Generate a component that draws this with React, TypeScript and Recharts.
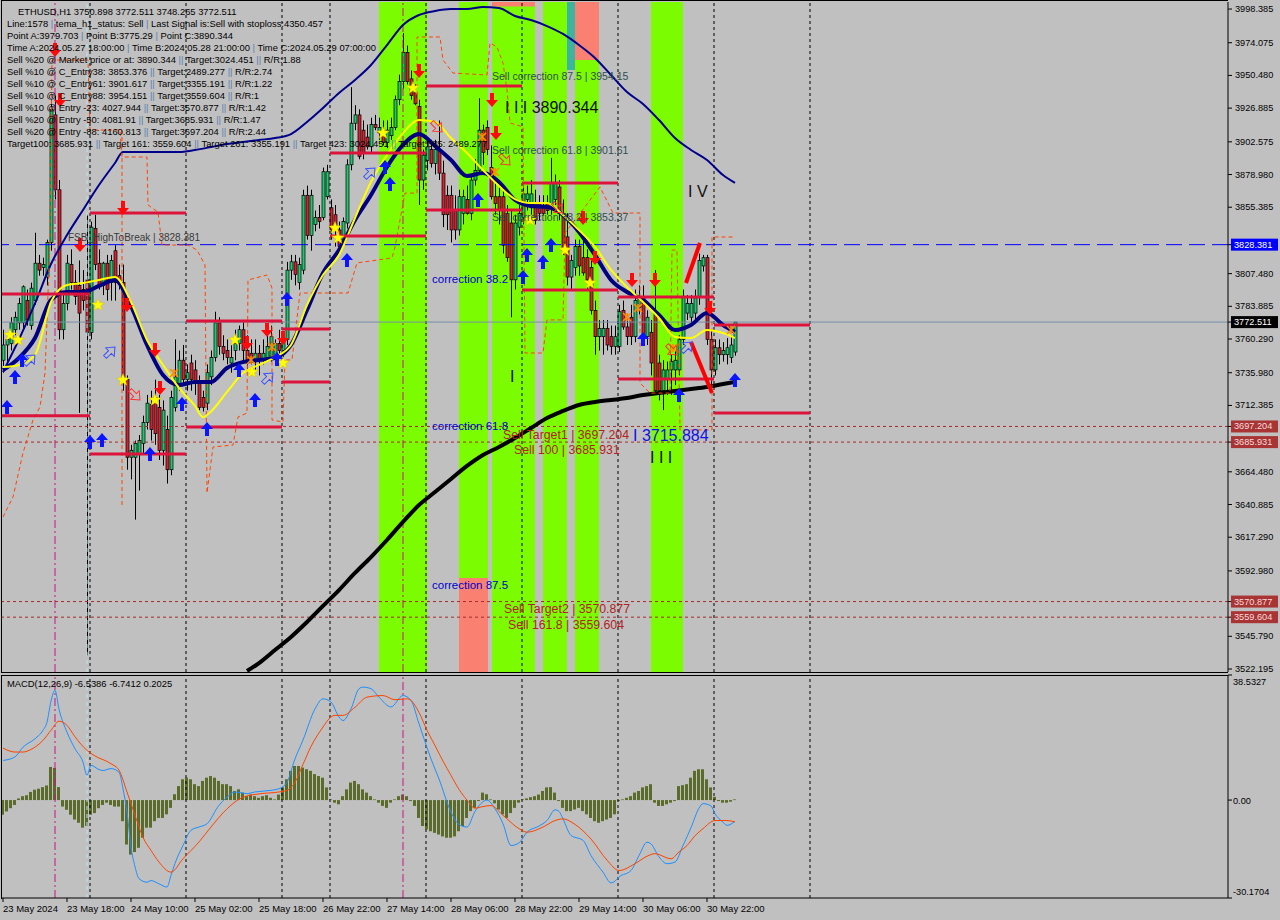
import React from 'react';
import { ComposedChart, Bar, Line, Scatter, XAxis, YAxis, ReferenceArea, ReferenceLine } from 'recharts';

const FONT = "'Liberation Sans', Arial, sans-serif";
const P_MIN = 3520.05;
const P_MAX = 4003.46;
const M_MIN = -30.1704;
const M_MAX = 38.5327;
const X_DOMAIN: [number, number] = [-0.25, 306.25];

// hourly candles [open, high, low, close]
const candles: number[][] = [
  [3745,3767,3736,3756],[3756,3763,3742,3760],[3757,3776,3752,3772],[3767,3780,3763,3776],[3772,3790,3767,3786],
  [3772,3799,3768,3798],[3788,3796,3770,3774],[3770,3801,3767,3797],[3788,3837,3785,3815],[3815,3821,3806,3810],
  [3812,3819,3806,3814],[3805,3832,3799,3830],[3830,3933,3824,3926],[3922,3936,3861,3868],[3868,3875,3760,3767],
  [3767,3792,3760,3786],[3786,3821,3781,3815],[3814,3825,3796,3801],[3801,3810,3785,3791],[3799,3817,3707,3779],
  [3796,3810,3781,3788],[3803,3850,3532,3765],[3765,3845,3760,3841],[3840,3850,3810,3814],[3815,3825,3796,3798],
  [3799,3816,3792,3815],[3815,3821,3788,3796],[3801,3821,3788,3817],[3824,3828,3788,3801],[3806,3814,3796,3801],
  [3801,3814,3723,3731],[3731,3734,3666,3675],[3675,3684,3659,3680],[3675,3687,3630,3685],[3677,3691,3651,3687],
  [3685,3705,3677,3700],[3700,3720,3695,3714],[3713,3723,3687,3695],[3718,3731,3684,3692],[3711,3720,3673,3680],
  [3680,3716,3669,3709],[3695,3705,3656,3666],[3666,3723,3662,3718],[3711,3760,3708,3733],[3728,3752,3723,3745],
  [3745,3756,3727,3731],[3731,3742,3723,3736],[3743,3749,3723,3731],[3738,3745,3720,3729],[3729,3734,3709,3711],
  [3718,3723,3708,3711],[3714,3742,3709,3736],[3733,3752,3727,3747],[3747,3780,3744,3772],[3772,3776,3749,3755],
  [3755,3763,3745,3750],[3752,3760,3742,3747],[3743,3756,3736,3747],[3752,3767,3745,3757],[3757,3770,3752,3767],
  [3767,3774,3745,3752],[3752,3763,3738,3743],[3750,3760,3742,3745],[3745,3760,3738,3750],[3750,3756,3734,3745],
  [3745,3760,3742,3750],[3747,3767,3744,3755],[3747,3770,3744,3762],[3747,3760,3742,3757],[3757,3767,3749,3752],
  [3752,3763,3747,3760],[3760,3816,3756,3810],[3810,3821,3803,3816],[3816,3821,3799,3807],[3801,3819,3796,3814],
  [3810,3868,3807,3864],[3864,3871,3832,3835],[3835,3868,3824,3864],[3843,3853,3838,3848],[3848,3857,3840,3845],
  [3848,3884,3846,3881],[3863,3886,3861,3881],[3855,3861,3832,3839],[3850,3857,3827,3839],[3839,3845,3823,3827],
  [3832,3848,3828,3845],[3844,3890,3840,3886],[3886,3942,3882,3916],[3916,3929,3911,3922],[3922,3926,3890,3892],
  [3911,3918,3890,3895],[3906,3915,3897,3899],[3899,3920,3895,3915],[3915,3922,3911,3913],[3909,3920,3904,3913],
  [3909,3918,3900,3902],[3902,3918,3898,3911],[3907,3920,3904,3913],[3913,3936,3911,3933],[3933,3951,3929,3946],
  [3946,3981,3941,3967],[3967,3972,3944,3946],[3948,3954,3933,3936],[3938,3944,3929,3930],[3928,3933,3857,3875],
  [3875,3897,3868,3893],[3889,3904,3882,3899],[3897,3904,3884,3887],[3887,3904,3879,3897],[3897,3918,3875,3880],
  [3880,3889,3841,3850],[3864,3871,3839,3850],[3864,3871,3830,3839],[3853,3864,3832,3839],[3839,3868,3835,3863],
  [3851,3868,3843,3863],[3861,3871,3850,3851],[3851,3879,3846,3875],[3875,3890,3871,3882],[3882,3934,3879,3911],
  [3911,3915,3886,3895],[3913,3918,3893,3897],[3884,3900,3861,3863],[3863,3875,3850,3858],[3863,3871,3843,3853],
  [3863,3868,3822,3828],[3851,3857,3816,3819],[3844,3853,3776,3803],[3803,3850,3796,3844],[3841,3857,3835,3851],
  [3848,3871,3843,3865],[3861,3871,3853,3865],[3855,3875,3850,3865],[3858,3868,3843,3846],[3858,3864,3846,3851],
  [3855,3864,3850,3851],[3858,3864,3850,3853],[3855,3891,3850,3873],[3861,3879,3857,3873],[3870,3875,3846,3851],
  [3851,3861,3821,3824],[3834,3851,3799,3805],[3805,3821,3796,3817],[3812,3832,3806,3827],[3827,3832,3806,3813],
  [3819,3832,3806,3808],[3819,3825,3796,3803],[3812,3817,3778,3781],[3781,3788,3749,3762],[3762,3774,3752,3768],
  [3762,3774,3749,3768],[3768,3774,3752,3756],[3762,3770,3749,3755],[3755,3770,3749,3762],[3755,3785,3751,3780],
  [3781,3788,3767,3769],[3769,3778,3756,3762],[3776,3785,3756,3762],[3762,3796,3758,3788],[3783,3799,3778,3791],
  [3791,3799,3760,3762],[3762,3781,3756,3776],[3765,3774,3734,3743],[3779,3810,3720,3723],[3743,3749,3716,3723],
  [3723,3745,3709,3738],[3731,3744,3720,3738],[3738,3749,3720,3744],[3738,3752,3727,3745],[3738,3763,3734,3760],
  [3760,3796,3756,3791],[3779,3792,3774,3786],[3776,3792,3772,3786],[3779,3796,3774,3790],[3791,3822,3785,3817],
  [3813,3821,3809,3819],[3819,3821,3756,3760],[3760,3767,3727,3738],[3738,3760,3734,3754],[3754,3760,3742,3749],
  [3749,3758,3744,3752],[3749,3761,3742,3754],[3747,3763,3743,3756],[3750.898,3772.511,3748.265,3772.511],
];

// indicator lines [bar, value]
const temaLine: number[][] = [
  [0,3737.9],[4,3746.6],[8,3761.0],[12,3788.5],[16,3794.2],[20,3794.2],[24,3798.6],[28,3802.9],[32,3784.1],[36,3756.0],
  [40,3734.3],[44,3727.1],[48,3729.3],[52,3729.3],[56,3739.4],[60,3743.7],[64,3745.2],[68,3746.6],[72,3756.0],[76,3781.2],
  [80,3807.9],[84,3824.5],[88,3846.2],[92,3864.2],[96,3884.4],[100,3900.3],[104,3908.2],[108,3899.6],[112,3889.5],[116,3877.9],
  [120,3880.1],[124,3873.6],[128,3860.6],[132,3856.3],[136,3855.5],[140,3849.8],[144,3837.5],[148,3820.9],[152,3802.9],[156,3794.2],
  [160,3788.5],[164,3777.6],[168,3766.8],[172,3770.4],[176,3779.1],[180,3770.4],[183,3765.4],
];
const yellowLine: number[][] = [
  [0,3740.1],[4,3741.6],[8,3748.8],[12,3787.0],[16,3799.3],[20,3800.7],[24,3802.9],[28,3805.0],[32,3787.0],[36,3759.6],
  [40,3741.6],[44,3725.0],[48,3712.0],[50,3704.0],[52,3708.0],[56,3722.1],[60,3735.8],[64,3741.6],[68,3747.3],[72,3756.0],[76,3784.8],
  [80,3806.5],[84,3820.9],[88,3847.6],[92,3873.6],[96,3893.1],[100,3908.9],[104,3918.3],[108,3916.9],[112,3905.3],[116,3894.5],
  [120,3882.2],[124,3870.7],[128,3861.3],[132,3858.4],[136,3858.4],[140,3849.8],[144,3838.9],[148,3826.7],[152,3810.1],[156,3797.8],
  [160,3787.0],[164,3775.5],[168,3761.8],[172,3761.0],[176,3766.8],[180,3764.6],[183,3761.0],
];
const envelopeLine: number[][] = [
  [0,3736.5],[4,3760.0],[8,3786.0],[12,3814.4],[16,3835.3],[20,3853.4],[24,3871.4],[28,3887.3],[30,3895.2],[36,3895.2],
  [44,3895.2],[48,3896.7],[52,3898.8],[56,3901.0],[60,3902.4],[64,3903.9],[68,3905.3],[72,3908.2],[76,3916.9],[80,3927.0],
  [84,3937.8],[88,3947.2],[92,3958.0],[96,3972.4],[100,3986.9],[104,3994.1],[108,3997.0],[112,3998.4],[116,3998.4],[120,3999.8],
  [124,3999.1],[128,3993.4],[132,3990.5],[136,3986.1],[140,3980.4],[144,3972.4],[148,3963.1],[152,3950.8],[156,3938.5],[160,3929.9],
  [164,3918.3],[168,3905.3],[172,3896.7],[176,3889.5],[180,3878.6],[183,3872.9],
];
const ma200Line: number[][] = [
  [61,3520.8],[64,3526.5],[68,3535.9],[72,3545.3],[76,3556.1],[80,3567.7],[84,3579.2],[88,3591.5],[92,3603.0],[96,3615.3],
  [100,3628.3],[104,3640.5],[108,3649.9],[112,3659.3],[116,3668.7],[120,3676.6],[124,3682.4],[128,3688.9],[132,3696.1],[136,3703.3],
  [140,3708.4],[144,3712.7],[148,3714.9],[152,3716.3],[156,3717.7],[160,3719.9],[164,3721.3],[168,3722.8],[172,3724.2],[176,3725.7],
  [180,3727.8],[183,3729.3],
];
const trailLine: number[][] = [
  [0,3631.9],[2.5,3646.3],[5,3678.1],[7.5,3701.9],[9.25,3711.3],[10.5,3735.8],[11.75,3831.7],[12.25,3961.6],[21.25,3961.6],[21.75,3911.1],
  [29.25,3911.1],[29.75,3891.6],[36,3891.6],[36.25,3857.0],[38.75,3851.9],[39.75,3828.1],[46.25,3828.1],[48.5,3824.5],[50.5,3813.7],[51,3649.2],
  [52.5,3682.4],[57.5,3683.8],[58.75,3704.0],[61,3706.9],[61.25,3802.9],[66,3806.5],[67.25,3797.1],[67.25,3701.9],[70,3700.4],[70.5,3745.2],
  [72.25,3745.2],[74.25,3793.5],[86.25,3793.5],[88.5,3815.2],[97.25,3818.8],[98,3826.7],[100.5,3865.6],[103.5,3865.6],[103.5,3978.2],[109.25,3978.2],
  [110,3961.6],[112.5,3952.2],[121,3950.8],[121.75,3973.9],[123.5,3971.0],[125,3959.4],[126,3940.0],[126.75,3916.2],[130,3913.3],[130.5,3750.2],
  [135,3750.2],[136,3774.1],[140,3774.1],[140.5,3836.8],[149.25,3870.0],[152.5,3851.2],[159.25,3851.2],[159.25,3728.6],[161.75,3721.3],[166.75,3721.3],
  [167.25,3824.5],[168.5,3824.5],[169.25,3694.7],[177.25,3694.7],[177.25,3833.9],[182.5,3833.9],
];

// MACD(12,26,9)
const histValues: number[] = [
  -4.5,-3.5,-2.5,-1.5,0.5,1.2,1.5,2.5,3.2,3.5,
  4.0,4.5,10.2,9.9,4.0,-2.0,-3.0,-4.5,-6.0,-7.0,
  -8.5,-8.0,-4.5,-4.0,-2.5,-1.5,-0.8,-1.5,-2.0,-2.0,
  -6.5,-13.7,-16.8,-16.0,-14.7,-11.6,-8.5,-8.5,-6.5,-5.5,
  -5.5,-4.4,-2.4,1.8,4.3,6.4,6.9,6.4,4.9,4.3,
  5.9,6.9,7.4,6.9,5.9,4.9,4.9,4.3,2.8,3.3,
  2.3,1.2,1.7,1.2,0.7,1.2,1.5,0.7,0.2,1.7,
  3.9,6.4,9.0,10.5,10.5,10.0,9.5,9.0,8.0,7.4,
  6.9,3.9,0.2,-0.8,-1.3,1.2,3.3,5.4,5.9,4.9,
  3.3,2.3,1.2,0.2,-0.8,-1.8,-2.4,-0.8,0.2,1.2,
  1.7,1.2,-0.3,-1.8,-5.5,-8.0,-9.0,-9.6,-10.1,-10.6,
  -11.2,-11.6,-11.6,-11.2,-9.6,-8.0,-5.5,-3.4,-2.4,-0.3,
  2.3,1.8,0.2,-1.0,-2.9,-4.4,-5.5,-4.0,-2.4,-0.8,
  0.2,0.5,0.9,1.2,1.7,2.8,3.9,4.0,2.3,-0.3,
  -2.4,-3.4,-3.4,-2.9,-2.4,-3.4,-4.4,-5.5,-6.5,-7.0,
  -6.5,-6.0,-5.5,-4.4,-0.3,0.2,0.7,1.2,2.3,2.8,
  3.9,4.3,4.9,-0.8,-1.8,-1.8,-1.3,-0.8,-0.3,4.3,
  4.6,4.9,6.9,9.0,9.5,9.5,6.4,3.9,1.0,-0.3,
  -0.8,-0.8,-0.5,0.2,
];
const macdLine: number[][] = [
  [0,12.2],[3,13.3],[5,16.3],[8,18.9],[10,21.5],[11,24.0],[12,30.5],[13,33.8],[14,28.0],[16,20.9],[18,15.8],[20,11.7],[21,7.6],
  [22,10.7],[24,9.4],[25,9.1],[27,9.7],[29,8.6],[30,3.5],[31,-3.7],[32,-14.5],[33,-20.5],[34,-24.2],[36,-25.3],[37,-24.8],
  [39,-25.8],[41,-26.8],[42,-23.2],[43,-19.5],[45,-14.0],[47,-9.3],[49,-8.3],[51,-7.3],[54,-1.6],[56,0.9],[58,2.5],[61,2.0],
  [63,2.5],[67,3.0],[69,3.5],[71,5.5],[73,12.7],[75,18.5],[78,28.1],[80,31.2],[82,30.2],[84,25.6],[85,24.5],[87,28.1],[89,34.3],
  [90,34.8],[92,34.3],[94,31.7],[97,28.7],[100,32.2],[102,30.7],[104,23.5],[107,12.7],[109,6.5],[112,-3.7],[114,-7.5],[116,-8.3],
  [118,-3.5],[121,0],[123,-2.7],[125,-7.3],[127,-14.0],[129,-13.2],[131,-9.9],[134,-8.0],[136,-6.3],[138,-3.0],[139,-3.5],
  [140,-5.8],[142,-10.9],[145,-12.4],[147,-17.1],[150,-22.2],[152,-25.5],[153,-25.0],[154,-23.7],[157,-21.7],[159,-17.1],
  [161,-13.0],[162,-13.5],[164,-17.5],[166,-19.6],[168,-19.1],[170,-14.0],[172,-8.5],[174,-2.5],[175,-1.1],[177,-1.8],
  [178,-4.2],[180,-6.8],[181,-7.8],[183,-6.5386],
];
const signalLine: number[][] = [
  [0,16.0],[3,14.8],[5,14.8],[7,15.6],[10,18.4],[12,21.5],[14,24.3],[16,23.0],[18,19.5],[21,15.3],[23,13.6],[27,11.2],
  [29,9.2],[31,2.5],[33,-4.7],[35,-11.5],[37,-15.5],[39,-19.1],[42,-22.2],[45,-18.1],[49,-12.9],[52,-8.3],[56,-2.7],[60,0.9],
  [64,1.9],[69,2.5],[71,3.0],[73,5.5],[75,11.0],[77,16.5],[80,22.5],[82,25.6],[83,26.1],[85,26.1],[88,28.6],[91,31.7],
  [95,32.2],[98,30.9],[101,31.2],[102,30.7],[104,27.0],[106,21.5],[108,16.8],[110,12.0],[112,7.6],[114,3.3],[116,0],
  [118,-2.5],[120,-2.0],[122,-1.7],[125,-4.7],[129,-8.8],[131,-9.9],[135,-8.3],[138,-6.3],[140,-5.8],[143,-7.5],[147,-12.0],
  [151,-18.5],[154,-21.7],[158,-19.6],[161,-17.3],[163,-16.5],[167,-18.1],[169,-16.0],[171,-14.0],[173,-11.0],[175,-8.8],
  [178,-6.3],[181,-6.3],[183,-6.7412],
];

// support / resistance segments [fromBar, toBar, price]
const levelSegments: number[][] = [
  [-0.25,21.75,3792.8],[-0.25,21.75,3705.0],[21.75,45.75,3851.2],[21.75,45.75,3677.3],[45.75,69.75,3773.3],[45.75,69.75,3696.8],
  [69.75,81.75,3767.5],[69.75,81.75,3729.3],[81.75,105.75,3834.6],[81.75,105.75,3894.5],[105.75,129.75,3942.9],[105.75,129.75,3853.4],
  [129.75,153.75,3872.9],[129.75,153.75,3795.7],[153.75,177.75,3790.6],[153.75,177.75,3731.5],[177.75,201.75,3770.4],[177.75,201.75,3706.9],
];
const zigzagSegments: number[][] = [
  [170.75,3800.7,174.25,3829.6],
  [172,3758.2,177.25,3721.3],
];
const dayBreaks: number[] = [21.75,45.75,69.75,81.75,105.75,129.75,153.75,177.75,201.75];
const pointMarkers: number[] = [13, 100];
const greenBands: number[][] = [[94,106],[114,121.25],[122.25,133],[135,141],[143,149],[162,170]];
const fullLevels = { fsb: 3828.381, bid: 3772.511, targets: [3697.204, 3685.931, 3570.877, 3559.604] };

const upArrows: number[][] = [
  [1,3716.3],[3,3737.9],[4.75,3750.2],[21.75,3691.0],[24.75,3692.5],[36.75,3682.4],[44.75,3718.5],[51,3700.4],[59,3743.0],
  [63,3721.4],[68.5,3750.9],[71,3794.2],[86,3822.4],[95.5,3889.5],[96.75,3877.2],[118.75,3865.6],[130,3810.1],[131,3826.0],
  [135,3820.9],[137,3833.2],[160,3765.4],[169,3725.0],[183,3735.8],
];
const downArrows: number[][] = [
  [13,3963.8],[14.25,3927.7],[19.25,3823.1],[30,3849.8],[31,3779.8],[38,3747.3],[39.25,3719.9],[61,3752.4],[66,3761.8],
  [70,3756.0],[104,3948.6],[122.25,3927.7],[123.25,3903.9],[145,3842.6],[148,3813.7],[157.25,3797.8],[163,3797.8],[176.75,3777.6],
];
const hollowUp: number[][] = [[6.75,3745.2],[26.75,3750.9],[66.25,3732.2],[91.75,3880.1],[171,3754.5]];
const hollowDown: number[][] = [[33,3719.9],[108.5,3913.3],[125.5,3889.5],[138.75,3854.8],[167.25,3752.4]];
const starMarks: number[][] = [
  [1.75,3763.2],[3.75,3759.6],[23.75,3784.8],[30,3730.7],[38,3716.3],[58,3759.6],[62.25,3736.5],[70,3743.0],[83,3840.4],
  [83.75,3833.2],[95,3908.9],[102.5,3941.4],[131.75,3846.2],[140.5,3824.5],[146.75,3800.7],
];
const crossMarks: number[][] = [
  [42.75,3735.8],[62,3745.2],[67.25,3754.5],[119.75,3906.1],[123,3880.8],[156,3776.2],[158.75,3782.7],[167.5,3753.8],[182,3766.8],
];
const chartNotes = [
  { i: 16.25, p: 3833.2, text: 'FSB_HighToBreak | 3828.381', kind: 'fsb' },
  { i: 122.25, p: 3950.1, text: 'Sell correction 87.5 | 3954.15', kind: 'sellCorr' },
  { i: 125.5, p: 3927.7, text: 'I I I 3890.344', kind: 'wave' },
  { i: 122.25, p: 3896.7, text: 'Sell correction 61.8 | 3901.61', kind: 'sellCorr' },
  { i: 122.25, p: 3848.3, text: 'Sell correction 38.2 | 3853.37', kind: 'sellCorr' },
  { i: 171.25, p: 3866.4, text: 'I V', kind: 'wave' },
  { i: 107.25, p: 3803.6, text: 'correction 38.2', kind: 'corr' },
  { i: 107.25, p: 3697.5, text: 'correction 61.8', kind: 'corr' },
  { i: 107.25, p: 3582.8, text: 'correction 87.5', kind: 'corr' },
  { i: 125, p: 3691.0, text: 'Sell Target1 | 3697.204', kind: 'sellTgt' },
  { i: 157.5, p: 3691.0, text: 'I 3715.884', kind: 'waveBlue' },
  { i: 127.75, p: 3680.2, text: 'Sell 100 | 3685.931', kind: 'sellTgt' },
  { i: 161.75, p: 3674.5, text: 'I I I', kind: 'wave' },
  { i: 126.75, p: 3732.9, text: 'I', kind: 'wave' },
  { i: 125.25, p: 3565.5, text: 'Sell Target2 | 3570.877', kind: 'sellTgt' },
  { i: 126.25, p: 3554.0, text: 'Sell 161.8 | 3559.604', kind: 'sellTgt' },
];

const priceTicks: number[] = [
  3998.385,3974.075,3950.48,3926.885,3902.575,3878.98,3855.385,3807.48,3783.885,3760.29,3735.98,3712.385,
  3664.48,3640.885,3617.29,3592.98,3545.79,3522.195,3828.381,3772.511,3697.204,3685.931,3570.877,3559.604,
];
const macdTicks: number[] = [38.5327, 0, -30.1704];
const timeTicks: number[] = [0,16,32,48,64,80,96,112,128,144,160,176];
const timeLabels: string[] = [
  '23 May 2024','23 May 18:00','24 May 10:00','25 May 02:00','25 May 18:00','26 May 22:00',
  '27 May 14:00','28 May 06:00','28 May 22:00','29 May 14:00','30 May 06:00','30 May 22:00',
];
const infoLines: string[] = [
  'ETHUSD,H1  3750.898 3772.511 3748.265 3772.511',
  'Line:1578 | tema_h1_status: Sell | Last Signal is:Sell with stoploss:4350.457',
  'Point A:3979.703 | Point B:3775.29 | Point C:3890.344',
  'Time A:2024.05.27 18:00:00 | Time B:2024.05.28 21:00:00 | Time C:2024.05.29 07:00:00',
  'Sell %20 @ Market price or at: 3890.344 || Target:3024.451 || R/R:1.88',
  'Sell %10 @ C_Entry38: 3853.376 || Target:2489.277 || R/R:2.74',
  'Sell %10 @ C_Entry61: 3901.617 || Target:3355.191 || R/R:1.22',
  'Sell %10 @ C_Entry88: 3954.151 || Target:3559.604 || R/R:1',
  'Sell %10 @ Entry -23: 4027.944 || Target:3570.877 || R/R:1.42',
  'Sell %20 @ Entry -50: 4081.91 || Target:3685.931 || R/R:1.47',
  'Sell %20 @ Entry -88: 4160.813 || Target:3697.204 || R/R:2.44',
  'Target100: 3685.931 || Target 161: 3559.604 || Target 261: 3355.191 || Target 423: 3024.451 || Target 685: 2489.277',
];

const noteStyles: Record<string, { color: string; size: number }> = {
  fsb: { color: '#3A3A3A', size: 10 },
  sellCorr: { color: '#2F4F4F', size: 10.5 },
  wave: { color: '#111111', size: 16 },
  corr: { color: '#0000CD', size: 11.5 },
  sellTgt: { color: '#B22222', size: 12.3 },
  waveBlue: { color: '#1010E8', size: 16 },
};
const boxStyles: Record<string, { bg: string; fg: string }> = {
  '3828.381': { bg: '#0000FF', fg: '#FFFFFF' },
  '3772.511': { bg: '#000000', fg: '#FFFFFF' },
  '3697.204': { bg: '#A83434', fg: '#F6DCDC' },
  '3685.931': { bg: '#A83434', fg: '#F6DCDC' },
  '3570.877': { bg: '#A83434', fg: '#F6DCDC' },
  '3559.604': { bg: '#A83434', fg: '#F6DCDC' },
};

const toPts = (arr: number[][]) => arr.map(([i, v]) => ({ i, v }));

const CandleShape = (props: any) => {
  const { x, y, width, height, payload } = props;
  if (x == null || y == null || !payload) return null;
  const top = Math.min(y, y + height);
  const bot = Math.max(y, y + height);
  const { o, h, l, c } = payload;
  const span = h - l || 1;
  const py = (p: number) => top + ((h - p) / span) * (bot - top);
  const cx = Math.round(x + width / 2) + 0.5;
  const bTop = py(Math.max(o, c));
  const bBot = py(Math.min(o, c));
  const bull = c >= o;
  return (
    <g>
      <line x1={cx} x2={cx} y1={top} y2={bot} stroke="#000" strokeWidth={1} />
      <rect x={cx - 1.5} y={bTop} width={3} height={Math.max(1, bBot - bTop)} fill={bull ? '#1EC86E' : '#D8202F'} stroke="#000" strokeWidth={0.7} />
    </g>
  );
};

const arrowPts = (cx: number, cy: number, dir: number) =>
  [[0, 0], [6, 7], [2, 7], [2, 14], [-2, 14], [-2, 7], [-6, 7]]
    .map(([dx, dy]) => `${cx + dx},${cy + dir * dy}`)
    .join(' ');

const UpArrow = (props: any) => {
  const { cx, cy } = props;
  if (cx == null || cy == null) return null;
  return <polygon points={arrowPts(cx, cy, 1)} fill="#0A14FF" />;
};
const DownArrow = (props: any) => {
  const { cx, cy } = props;
  if (cx == null || cy == null) return null;
  return <polygon points={arrowPts(cx, cy, -1)} fill="#FF0A0A" />;
};
const HollowUp = (props: any) => {
  const { cx, cy } = props;
  if (cx == null || cy == null) return null;
  return (
    <g transform={`rotate(45 ${cx} ${cy})`}>
      <polygon points={arrowPts(cx, cy - 7, 1)} fill="none" stroke="#3C50FF" strokeWidth={1} />
    </g>
  );
};
const HollowDown = (props: any) => {
  const { cx, cy } = props;
  if (cx == null || cy == null) return null;
  return (
    <g transform={`rotate(-45 ${cx} ${cy})`}>
      <polygon points={arrowPts(cx, cy + 7, -1)} fill="none" stroke="#FF3030" strokeWidth={1} />
    </g>
  );
};
const StarShape = (props: any) => {
  const { cx, cy } = props;
  if (cx == null || cy == null) return null;
  const pts: string[] = [];
  for (let k = 0; k < 10; k++) {
    const r = k % 2 === 0 ? 6.5 : 2.8;
    const a = -Math.PI / 2 + (k * Math.PI) / 5;
    pts.push(`${cx + r * Math.cos(a)},${cy + r * Math.sin(a)}`);
  }
  return <polygon points={pts.join(' ')} fill="#FFFF00" stroke="#E0C000" strokeWidth={0.5} />;
};
const CrossShape = (props: any) => {
  const { cx, cy } = props;
  if (cx == null || cy == null) return null;
  return (
    <g stroke="#FF8C00" strokeWidth={1.6}>
      <line x1={cx - 4} y1={cy - 4} x2={cx + 4} y2={cy + 4} />
      <line x1={cx - 4} y1={cy + 4} x2={cx + 4} y2={cy - 4} />
      <line x1={cx} y1={cy - 4} x2={cx} y2={cy + 4} />
    </g>
  );
};
const NoteShape = (props: any) => {
  const { cx, cy, payload } = props;
  if (cx == null || cy == null || !payload) return null;
  const st = noteStyles[payload.kind];
  return (
    <text x={cx} y={cy} fill={st.color} fontSize={st.size} fontFamily={FONT} dominantBaseline="central">
      {payload.text}
    </text>
  );
};

const PriceTick = (props: any) => {
  const { x, y, payload } = props;
  const label = Number(payload.value).toFixed(3);
  const box = boxStyles[label];
  if (box) {
    return (
      <g>
        <rect x={1231} y={y - 6} width={47} height={12} fill={box.bg} />
        <text x={1234} y={y} fill={box.fg} fontSize={9.2} fontFamily={FONT} dominantBaseline="central">{label}</text>
      </g>
    );
  }
  return (
    <text x={x} y={y} fill="#000" fontSize={9.2} fontFamily={FONT} dominantBaseline="central">{label}</text>
  );
};
const MacdTick = (props: any) => {
  const { x, y, payload } = props;
  const v = Number(payload.value);
  const label = v === 0 ? '0.00' : String(v);
  const dy = v > 20 ? 7 : v < -20 ? -6 : 1;
  return (
    <text x={x} y={y + dy} fill="#000" fontSize={9.2} fontFamily={FONT} dominantBaseline="central">{label}</text>
  );
};
const TimeTick = (props: any) => {
  const { x, y, payload } = props;
  const idx = timeTicks.indexOf(payload.value);
  return (
    <text x={x} y={y + 8} fill="#000" fontSize={9.5} fontFamily={FONT} textAnchor="start">{timeLabels[idx]}</text>
  );
};

const InfoText = ({ text, x, y }: { text: string; x: number; y: number }) => {
  const parts = text.split(/(\|+)/);
  return (
    <text x={x} y={y} fontSize={9.4} fontFamily={FONT} fill="#000" dominantBaseline="central">
      {parts.map((s, k) => (/^\|+$/.test(s) ? <tspan key={k} fill="#5A7FB0">{s}</tspan> : <tspan key={k}>{s}</tspan>))}
    </text>
  );
};

export default function App() {
  const rows = candles.map((c, i) => ({ i, o: c[0], h: c[1], l: c[2], c: c[3], range: [c[2], c[1]] }));
  const macdRows = histValues.map((v, i) => ({ i, hist: v }));

  return (
    <div style={{ position: 'absolute', left: 0, top: 0, width: 1280, height: 920, background: '#C0C0C0', overflow: 'hidden', fontFamily: FONT }}>
      <div style={{ position: 'absolute', left: 0, top: 0 }}>
        <ComposedChart width={1280} height={674} data={rows} margin={{ top: 2, right: 0, bottom: 2, left: 2 }}>
          <XAxis type="number" dataKey="i" domain={X_DOMAIN} allowDataOverflow hide />
          <YAxis
            orientation="right"
            type="number"
            domain={[P_MIN, P_MAX]}
            allowDataOverflow
            width={52}
            ticks={priceTicks}
            interval={0}
            tickSize={4}
            tickMargin={3}
            tick={<PriceTick />}
            axisLine={{ stroke: '#000' }}
            tickLine={{ stroke: '#000' }}
          />
          {greenBands.map(([a, b], k) => (
            <ReferenceArea key={`g${k}`} x1={a} x2={b} y1={P_MIN} y2={P_MAX} fill="#7CFC00" fillOpacity={1} stroke="none" />
          ))}
          <ReferenceArea x1={114} x2={121.25} y1={P_MIN} y2={3587.9} fill="#FA8072" fillOpacity={1} stroke="none" />
          <ReferenceArea x1={143} x2={149} y1={3961.6} y2={P_MAX} fill="#FA8072" fillOpacity={1} stroke="none" />
          <ReferenceArea x1={141} x2={143} y1={3954.4} y2={P_MAX} fill="#3CB4A0" fillOpacity={1} stroke="none" />
          <ReferenceArea x1={122.25} x2={133} y1={4000.3} y2={P_MAX} fill="#FA8072" fillOpacity={1} stroke="none" />
          {dayBreaks.map((d) => (
            <ReferenceLine key={`d${d}`} x={d} stroke="#000" strokeDasharray="3 3" strokeWidth={1} />
          ))}
          {pointMarkers.map((d) => (
            <ReferenceLine key={`m${d}`} x={d} stroke="#C71585" strokeDasharray="8 3 2 3" strokeWidth={1} />
          ))}
          <ReferenceLine x={21} stroke="#B8E4EC" strokeDasharray="4 4" strokeWidth={1} />
          <ReferenceLine segment={[{ x: 29.75, y: 3911.1 }, { x: 29.75, y: 3640 }]} stroke="#FF4500" strokeDasharray="4 3" strokeWidth={1} />
          <ReferenceLine y={fullLevels.bid} stroke="#7890A8" strokeWidth={1} />
          <ReferenceLine y={fullLevels.fsb} stroke="#0000FF" strokeDasharray="16 7" strokeWidth={1} />
          {fullLevels.targets.map((t) => (
            <ReferenceLine key={`t${t}`} y={t} stroke="#A52A2A" strokeDasharray="3 3" strokeWidth={1} />
          ))}
          <Line data={toPts(ma200Line)} dataKey="v" type="monotone" stroke="#000000" strokeWidth={4} dot={false} isAnimationActive={false} />
          <Line data={toPts(envelopeLine)} dataKey="v" type="monotone" stroke="#00008B" strokeWidth={2} dot={false} isAnimationActive={false} />
          <Line data={toPts(trailLine)} dataKey="v" type="linear" stroke="#FF4500" strokeWidth={1} strokeDasharray="4 3" dot={false} isAnimationActive={false} />
          <Bar dataKey="range" barSize={3} shape={<CandleShape />} isAnimationActive={false} />
          <Line data={toPts(temaLine)} dataKey="v" type="monotone" stroke="#000080" strokeWidth={4} dot={false} isAnimationActive={false} />
          <Line data={toPts(yellowLine)} dataKey="v" type="monotone" stroke="#FFFF00" strokeWidth={2} dot={false} isAnimationActive={false} />
          {levelSegments.map(([a, b, p], k) => (
            <ReferenceLine key={`s${k}`} segment={[{ x: a, y: p }, { x: b, y: p }]} stroke="#DC143C" strokeWidth={3} />
          ))}
          {zigzagSegments.map(([a, p1, b, p2], k) => (
            <ReferenceLine key={`z${k}`} segment={[{ x: a, y: p1 }, { x: b, y: p2 }]} stroke="#FF0000" strokeWidth={4} />
          ))}
          <Scatter data={toPts(starMarks)} dataKey="v" shape={<StarShape />} isAnimationActive={false} />
          <Scatter data={toPts(crossMarks)} dataKey="v" shape={<CrossShape />} isAnimationActive={false} />
          <Scatter data={toPts(hollowUp)} dataKey="v" shape={<HollowUp />} isAnimationActive={false} />
          <Scatter data={toPts(hollowDown)} dataKey="v" shape={<HollowDown />} isAnimationActive={false} />
          <Scatter data={toPts(upArrows)} dataKey="v" shape={<UpArrow />} isAnimationActive={false} />
          <Scatter data={toPts(downArrows)} dataKey="v" shape={<DownArrow />} isAnimationActive={false} />
          <Scatter data={chartNotes} dataKey="p" shape={<NoteShape />} isAnimationActive={false} />
        </ComposedChart>
      </div>
      <div style={{ position: 'absolute', left: 0, top: 673 }}>
        <ComposedChart width={1280} height={247} data={macdRows} margin={{ top: 2, right: 0, bottom: 0, left: 2 }}>
          <XAxis
            type="number"
            dataKey="i"
            domain={X_DOMAIN}
            allowDataOverflow
            ticks={timeTicks}
            interval={0}
            height={22}
            tickSize={4}
            tick={<TimeTick />}
            axisLine={{ stroke: '#000' }}
            tickLine={{ stroke: '#000' }}
          />
          <YAxis
            orientation="right"
            type="number"
            domain={[M_MIN, M_MAX]}
            allowDataOverflow
            width={52}
            ticks={macdTicks}
            interval={0}
            tickSize={4}
            tickMargin={1}
            tick={<MacdTick />}
            axisLine={{ stroke: '#000' }}
            tickLine={{ stroke: '#000' }}
          />
          {dayBreaks.map((d) => (
            <ReferenceLine key={`md${d}`} x={d} stroke="#000" strokeDasharray="3 3" strokeWidth={1} />
          ))}
          {pointMarkers.map((d) => (
            <ReferenceLine key={`mm${d}`} x={d} stroke="#C71585" strokeDasharray="8 3 2 3" strokeWidth={1} />
          ))}
          <ReferenceLine x={21} stroke="#B8E4EC" strokeDasharray="4 4" strokeWidth={1} />
          <Bar dataKey="hist" barSize={3} fill="#5A6B2C" isAnimationActive={false} />
          <Line data={toPts(macdLine)} dataKey="v" type="monotone" stroke="#1E90FF" strokeWidth={1} dot={false} isAnimationActive={false} />
          <Line data={toPts(signalLine)} dataKey="v" type="monotone" stroke="#FF4500" strokeWidth={1} dot={false} isAnimationActive={false} />
        </ComposedChart>
      </div>
      <svg width={1280} height={920} style={{ position: 'absolute', left: 0, top: 0, pointerEvents: 'none' }}>
        <line x1={1.5} y1={0} x2={1.5} y2={673} stroke="#000" />
        <line x1={1} y1={0.5} x2={1228} y2={0.5} stroke="#000" />
        <line x1={1} y1={672.5} x2={1228} y2={672.5} stroke="#000" />
        <line x1={1} y1={675.5} x2={1228} y2={675.5} stroke="#000" />
        <line x1={1.5} y1={675} x2={1.5} y2={899} stroke="#000" />
        {infoLines.map((t, k) => (
          <InfoText key={k} text={t} x={k === 0 ? 18 : 7} y={11 + k * 12} />
        ))}
        <text x={7} y={683} fontSize={9.4} fontFamily={FONT} fill="#000" dominantBaseline="central">MACD(12,26,9) -6.5386 -6.7412 0.2025</text>
      </svg>
    </div>
  );
}
